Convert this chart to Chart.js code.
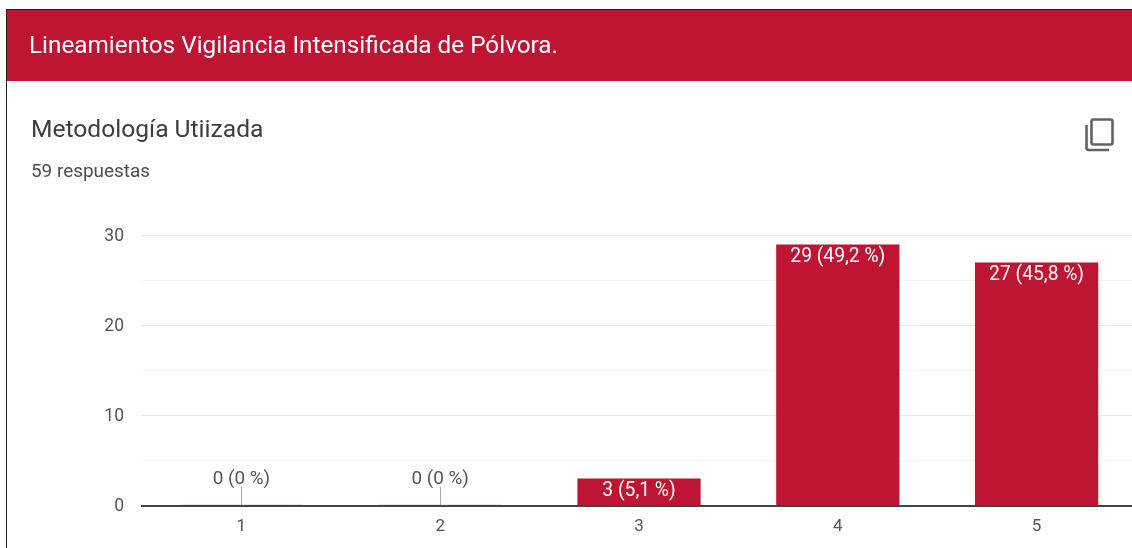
<!DOCTYPE html>
<html><head><meta charset="utf-8">
<script src="https://cdn.jsdelivr.net/npm/chart.js@4"></script>
<style>
html,body{margin:0;padding:0;background:#fff;overflow:hidden;width:1132px;height:548px}
#frame{position:absolute;left:6px;top:9px;width:1126px;height:539px;border-left:1px solid #222;border-top:1px solid #222;box-sizing:border-box}
#band{position:absolute;left:7px;top:10px;width:1125px;height:70.5px;background:#be1533;color:#fff;font:24.3px Roboto,sans-serif}
#band span{position:absolute;left:22px;top:20px;white-space:nowrap}
#q{position:absolute;left:31px;top:114px;font:24.6px Roboto,sans-serif;color:#3a3d42;white-space:nowrap}
#n{position:absolute;left:31px;top:159px;font:18.9px Roboto,sans-serif;color:#4a4d52;white-space:nowrap}
#ic{position:absolute;left:1084px;top:117px}
#c{position:absolute;left:0;top:0}
#band span,#q,#n,#c{filter:blur(0.35px)}
</style></head><body>
<canvas id="c" width="1136" height="548"></canvas>
<div id="frame"></div>
<div id="band"><span>Lineamientos Vigilancia Intensificada de Pólvora.</span></div>
<div id="q">Metodología Utiizada</div>
<div id="n">59 respuestas</div>
<svg id="ic" width="32" height="36" viewBox="0 0 32 36" fill="none" stroke="#5f6368" stroke-width="2.6">
<path d="M2.5 8V31a2 2 0 0 0 2 2H25"/><rect x="7.5" y="2.5" width="21" height="25" rx="2"/></svg>
<script>
const categories = ['1','2','3','4','5'];
const counts = [0,0,3,29,27];
const percents = ['0 %','0 %','5,1 %','49,2 %','45,8 %'];
const barColor = '#be1533';
const zeroBarColor = 'rgba(190,21,51,0.22)';
const font = 'Roboto, sans-serif';

const valueLabels = {
  id:'valueLabels',
  afterDatasetsDraw(chart){
    const c = chart.ctx, meta = chart.getDatasetMeta(0);
    c.save();
    c.textAlign = 'center';
    c.textBaseline = 'middle';
    meta.data.forEach((bar,i)=>{
      const txt = counts[i] + ' (' + percents[i] + ')';
      if(counts[i] === 0){
        c.font = '18.9px ' + font;
        c.strokeStyle = '#a9a9a9'; c.lineWidth = 1;
        const x = Math.round(bar.x)+0.5;
        c.beginPath(); c.moveTo(x, bar.base-18.5); c.lineTo(x, bar.base); c.stroke();
        c.fillStyle = '#555';
        c.fillText(txt, bar.x, bar.base-26);
      } else {
        c.font = '19.3px ' + font;
        c.fillStyle = '#fff';
        c.fillText(txt, bar.x, bar.y+13);
      }
    });
    c.restore();
  }
};

new Chart(document.getElementById('c'),{
  type:'bar',
  data:{labels:categories,datasets:[{data:counts,backgroundColor:counts.map(v=>v===0?zeroBarColor:barColor),borderWidth:0,minBarLength:1,barPercentage:0.62,categoryPercentage:1}]},
  plugins:[valueLabels],
  options:{
    responsive:false,animation:false,
    layout:{padding:{top:235.5,right:0,bottom:0,left:0}},
    plugins:{legend:{display:false},tooltip:{enabled:false},title:{display:false}},
    scales:{
      x:{
        afterFit(a){a.height=42.5;},
        grid:{display:false,drawTicks:false},
        border:{color:'#444',width:2},
        ticks:{color:'#555',font:{family:font,size:17},padding:11,maxRotation:0}
      },
      y:{
        min:0,max:30,
        afterFit(a){a.width=142;},
        grid:{drawTicks:false,color:(x)=>x.tick.value%10===0?'#e9e9e9':'#f6f6f6',lineWidth:1},
        border:{display:false},
        ticks:{stepSize:5,color:'#555',font:{family:font,size:17.5},padding:18,labelOffset:1.5,
          callback:(v)=>v%10===0?String(v):''}
      }
    }
  }
});
</script>
</body></html>
